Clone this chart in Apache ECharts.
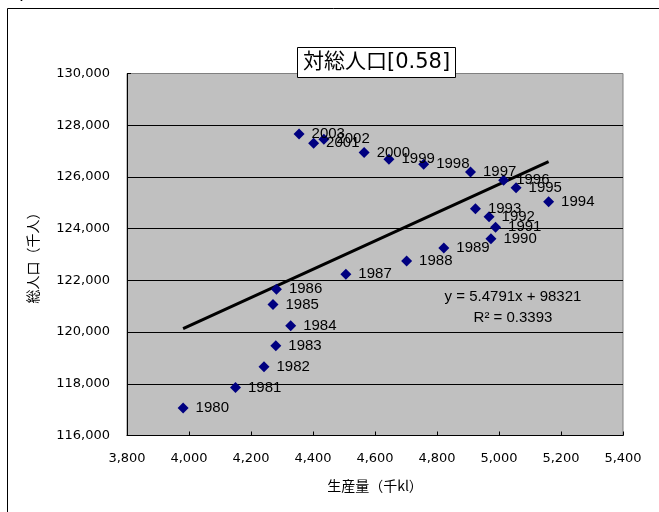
<!DOCTYPE html>
<html>
<head>
<meta charset="utf-8">
<script src="https://cdn.jsdelivr.net/npm/echarts@6/dist/echarts.min.js"></script>
<style>
  html, body { margin: 0; padding: 0; background: #fff; }
  #chart { width: 659px; height: 512px; }
</style>
</head>
<body>
<div id="chart"></div>
<script>
// Years shown as point labels
const years = [1980, 1981, 1982, 1983, 1984, 1985, 1986, 1987, 1988, 1989, 1990, 1991,
               1992, 1993, 1994, 1995, 1996, 1997, 1998, 1999, 2000, 2001, 2002, 2003];
// 生産量 (千kl)
const production = [3981, 4150, 4242, 4280, 4328, 4271, 4282, 4506, 4702, 4822, 4974, 4989,
                    4968, 4924, 5160, 5055, 5015, 4908, 4757, 4645, 4565, 4402, 4435, 4355];
// 総人口 (千人)
const population = [117060, 117860, 118660, 119470, 120240, 121070, 121660, 122240, 122745, 123250, 123610, 124050,
                    124460, 124770, 125040, 125580, 125870, 126190, 126490, 126680, 126940, 127300, 127460, 127660];

// Linear trend line  y = a x + b
const trendSlope = 5.4791;
const trendIntercept = 98321;
const rSquared = 0.3393;

const chartTitle = '対総人口[0.58]';
const xAxisName = '生産量（千kl）';
const yAxisName = '総人口（千人）';
const headerText = 'ta / Year';

const xRange = { min: 3800, max: 5400, interval: 200 };
const yRange = { min: 116000, max: 130000, interval: 2000 };

const numFont = '"DejaVu Sans", "Noto Sans CJK JP", sans-serif';
const labelFont = '"Liberation Sans", "DejaVu Sans", sans-serif';
const cjkFont = '"Noto Sans CJK JP", "DejaVu Sans", sans-serif';

const points = years.map((yr, i) => [production[i], population[i], yr]);
const xLo = Math.min(...production), xHi = Math.max(...production);
const trendData = [
  [xLo, trendSlope * xLo + trendIntercept],
  [xHi, trendSlope * xHi + trendIntercept]
];

const fmt = v => v.toLocaleString('en-US');

const chart = echarts.init(document.getElementById('chart'), null, { renderer: 'canvas' });
chart.setOption({
  animation: false,
  backgroundColor: '#ffffff',
  title: {
    text: chartTitle,
    left: 297,
    top: 47,
    padding: [3, 6],
    borderWidth: 1,
    borderColor: '#000',
    backgroundColor: '#ffffff',
    textStyle: { fontFamily: numFont, fontSize: 21, fontWeight: 'normal', color: '#000', lineHeight: 25 }
  },
  grid: {
    left: 127, right: 36, top: 73.5, bottom: 76.5,
    show: true,
    backgroundColor: '#c0c0c0',
    borderColor: '#808080',
    borderWidth: 1
  },
  xAxis: {
    type: 'value',
    min: xRange.min, max: xRange.max, interval: xRange.interval,
    name: xAxisName,
    nameLocation: 'middle',
    nameGap: 43,
    nameTextStyle: { fontFamily: cjkFont, fontSize: 14, color: '#000' },
    axisLine: { show: true, lineStyle: { color: '#000', width: 1 } },
    axisTick: { show: true, inside: true, length: 4, lineStyle: { color: '#000' } },
    axisLabel: { margin: 17, fontFamily: numFont, fontSize: 13, color: '#000', formatter: fmt },
    splitLine: { show: false }
  },
  yAxis: {
    type: 'value',
    min: yRange.min, max: yRange.max, interval: yRange.interval,
    name: yAxisName,
    nameLocation: 'middle',
    nameGap: 87,
    nameTextStyle: { fontFamily: cjkFont, fontSize: 14, color: '#000' },
    axisLine: { show: true, lineStyle: { color: '#000', width: 1 } },
    axisTick: { show: true, inside: true, length: 4, lineStyle: { color: '#000' } },
    axisLabel: { margin: 17, fontFamily: numFont, fontSize: 13, color: '#000', formatter: fmt },
    splitLine: { show: true, showMinLine: false, showMaxLine: false, lineStyle: { color: '#000', width: 1 } }
  },
  series: [
    {
      type: 'line',
      data: trendData,
      symbol: 'none',
      lineStyle: { color: '#000', width: 3 },
      z: 3,
      silent: true
    },
    {
      type: 'scatter',
      data: points,
      symbol: 'diamond',
      symbolSize: 11,
      itemStyle: { color: '#000080', opacity: 1 },
      z: 4,
      label: {
        show: true,
        position: 'right',
        distance: 7,
        formatter: p => String(p.value[2]),
        fontFamily: labelFont,
        fontSize: 15,
        color: '#000'
      },
      labelLayout: { hideOverlap: false }
    }
  ],
  graphic: [
    {
      type: 'rect',
      shape: { x: 7.5, y: 8.5, width: 800, height: 700 },
      style: { fill: null, stroke: '#000', lineWidth: 1 },
      silent: true,
      z: -10
    },
    {
      type: 'text',
      left: -2, top: -11,
      style: { text: headerText, font: 'bold 15px "DejaVu Sans", sans-serif', fill: '#000' }
    },
    {
      type: 'text',
      x: 513, y: 297,
      style: {
        text: 'y = ' + trendSlope + 'x + ' + trendIntercept,
        font: '15px "Liberation Sans", sans-serif', fill: '#000',
        align: 'center', verticalAlign: 'middle'
      },
      z: 10
    },
    {
      type: 'text',
      x: 513, y: 318,
      style: {
        text: 'R\u00B2 = ' + rSquared,
        font: '15px "Liberation Sans", sans-serif', fill: '#000',
        align: 'center', verticalAlign: 'middle'
      },
      z: 10
    }
  ]
});
</script>
</body>
</html>
